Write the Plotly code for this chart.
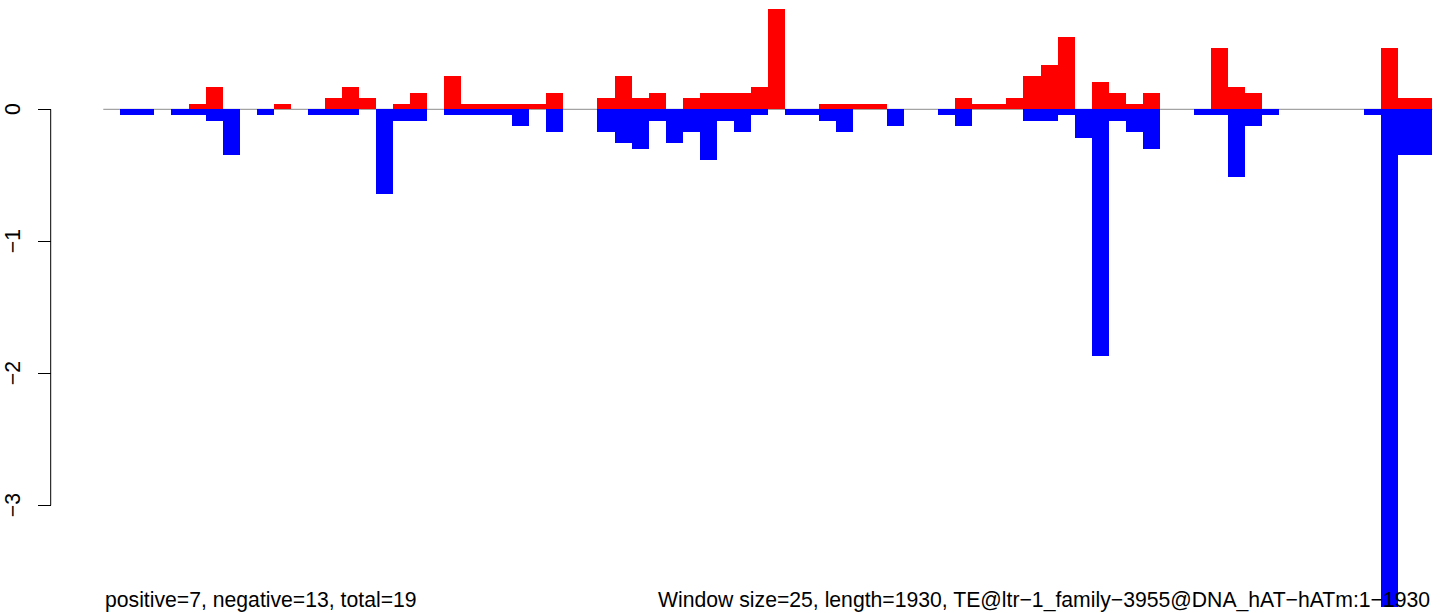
import plotly.graph_objects as go

# window index (window size 25 over length 1930)
n_windows = 78
windows = list(range(n_windows))

positive = [
    0, 0, 0, 0, 0, 0.042, 0.168, 0, 0, 0,
    0.042, 0, 0, 0.084, 0.168, 0.084, 0, 0.042, 0.126, 0,
    0.252, 0.042, 0.042, 0.042, 0.042, 0.042, 0.126, 0, 0, 0.084,
    0.252, 0.084, 0.126, 0, 0.084, 0.126, 0.126, 0.126, 0.168, 0.758,
    0, 0, 0.042, 0.042, 0.042, 0.042, 0, 0, 0, 0,
    0.084, 0.042, 0.042, 0.084, 0.252, 0.336, 0.547, 0, 0.21, 0.126,
    0.042, 0.126, 0, 0, 0, 0.463, 0.168, 0.126, 0, 0,
    0, 0, 0, 0, 0, 0.463, 0.084, 0.084,
]

negative = [
    0, -0.046, -0.046, 0, -0.046, -0.046, -0.086, -0.345, 0, -0.046,
    0, 0, -0.046, -0.046, -0.046, 0, -0.64, -0.086, -0.086, 0,
    -0.046, -0.046, -0.046, -0.046, -0.13, 0, -0.171, 0, 0, -0.171,
    -0.258, -0.3, -0.086, -0.258, -0.171, -0.384, -0.086, -0.171, -0.046, 0,
    -0.046, -0.046, -0.086, -0.171, 0, 0, -0.13, 0, 0, -0.046,
    -0.13, 0, 0, 0, -0.086, -0.086, -0.046, -0.215, -1.866, -0.086,
    -0.171, -0.3, 0, 0, -0.046, -0.046, -0.512, -0.13, -0.046, 0,
    0, 0, 0, 0, -0.046, -3.77, -0.345, -0.345,
]

y_tickvals = [0, -1, -2, -3]
y_ticktext = ["0", "\u22121", "\u22122", "\u22123"]

left_note = "positive=7, negative=13, total=19"
right_note = "Window size=25, length=1930, TE@ltr\u22121_family\u22123955@DNA_hAT\u2212hATm:1\u22121930"

W, H = 1452, 613
px_per_bin = 17.04
left_edge_px = 103.3
x0 = -0.5 - left_edge_px / px_per_bin
x1 = x0 + W / px_per_bin
px_per_unit = 132.0
zero_px = 109.3
y1 = zero_px / px_per_unit
y0 = y1 - H / px_per_unit
axis_pos = 50.7 / W

font_family = "Liberation Sans, Arial, Helvetica, sans-serif"
font_size = 21.2

fig = go.Figure()
fig.add_trace(go.Bar(x=windows, y=positive, width=1, marker=dict(color="#FF0000", line=dict(width=0)),
                     showlegend=False, name="positive"))
fig.add_trace(go.Bar(x=windows, y=negative, width=1, marker=dict(color="#0000FF", line=dict(width=0)),
                     showlegend=False, name="negative"))

fig.add_shape(type="line", xref="x", yref="y", x0=-0.5, x1=n_windows - 0.5, y0=0, y1=0,
              line=dict(color="#8c8c8c", width=1), layer="below")
fig.add_shape(type="line", xref="paper", yref="y", x0=axis_pos, x1=axis_pos,
              y0=min(y_tickvals), y1=max(y_tickvals), line=dict(color="black", width=1))

fig.add_annotation(x=-0.5, xref="x", xanchor="left", y=1 - 600 / H, yref="paper", yanchor="middle",
                   text=left_note, showarrow=False, font=dict(size=font_size, color="black", family=font_family))
fig.add_annotation(x=n_windows - 0.5, xref="x", xanchor="right", y=1 - 600 / H, yref="paper", yanchor="middle",
                   text=right_note, showarrow=False, font=dict(size=font_size, color="black", family=font_family))

fig.update_layout(
    width=W, height=H,
    margin=dict(l=0, r=0, t=0, b=0),
    paper_bgcolor="white", plot_bgcolor="white",
    barmode="overlay", bargap=0,
    font=dict(family=font_family, color="black"),
    xaxis=dict(range=[x0, x1], visible=False, domain=[0, 1]),
    yaxis=dict(range=[y0, y1], anchor="free", position=axis_pos,
               tickvals=y_tickvals, ticktext=y_ticktext, ticks="outside", ticklen=13,
               tickcolor="black", tickwidth=1, tickangle=-90, showgrid=False, zeroline=False,
               showline=False, ticklabelstandoff=9, ticklabelshift=3,
               tickfont=dict(size=font_size, color="black", family=font_family)),
)

fig.write_html("out.html", config={"displayModeBar": False},
               post_script="document.body.style.margin='0';")
